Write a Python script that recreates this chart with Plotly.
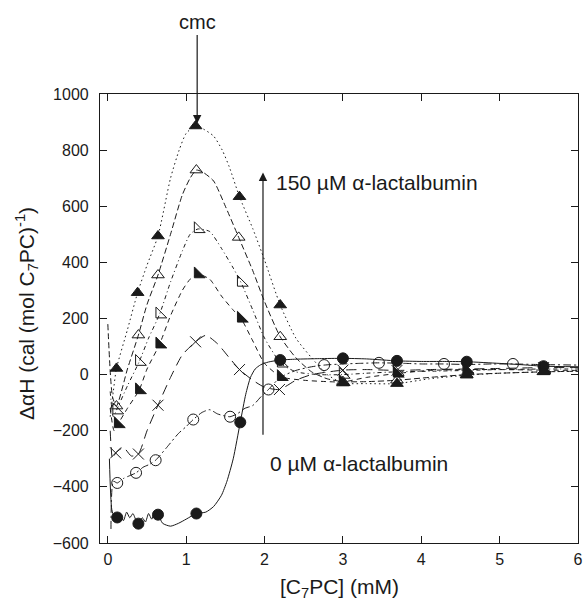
import plotly.graph_objects as go

# ---- data ----
# 0 µM alpha-lactalbumin (filled circles, solid)
c0_line_x = [0.02, 0.05, 0.08, 0.12, 0.16, 0.2, 0.24, 0.28, 0.32, 0.36, 0.39, 0.44, 0.48, 0.52, 0.56, 0.6, 0.64, 0.7, 0.8, 0.9, 1.0, 1.13, 1.25, 1.35, 1.45, 1.52, 1.6, 1.69, 1.76, 1.82, 1.88, 1.95, 2.05, 2.2, 2.4, 2.7, 3.0, 3.3, 3.69, 4.0, 4.3, 4.58, 5.0, 5.3, 5.56, 6.0]
c0_line_y = [-300, -480, -505, -509, -500, -520, -490, -510, -495, -520, -531, -510, -525, -495, -515, -490, -499, -530, -540, -530, -515, -495, -490, -470, -430, -380, -300, -170, -70, -10, 20, 35, 45, 52, 55, 57, 58, 56, 49, 47, 47, 46, 40, 35, 30, 28]
c0_mx = [0.12, 0.39, 0.64, 1.13, 1.69, 2.2, 3.0, 3.69, 4.58, 5.56]
c0_my = [-509, -531, -499, -495, -170, 52, 58, 49, 46, 30]

# open circles (dash-dot)
c1_line_x = [0.04, 0.07, 0.12, 0.2, 0.28, 0.36, 0.45, 0.53, 0.61, 0.75, 0.9, 1.0, 1.09, 1.2, 1.3, 1.4, 1.5, 1.56, 1.65, 1.75, 1.85, 1.95, 2.05, 2.2, 2.4, 2.6, 2.76, 3.0, 3.2, 3.46, 3.8, 4.0, 4.29, 4.6, 4.9, 5.17, 5.5, 6.0]
c1_line_y = [-550, -380, -386, -370, -360, -350, -330, -320, -305, -260, -210, -185, -160, -135, -125, -140, -148, -150, -140, -120, -110, -80, -53, -10, 15, 28, 34, 38, 40, 42, 40, 38, 38, 36, 38, 38, 36, 34]
c1_mx = [0.12, 0.36, 0.61, 1.09, 1.56, 2.05, 2.76, 3.46, 4.29, 5.17]
c1_my = [-386, -350, -305, -160, -150, -53, 34, 42, 38, 38]

# crosses (long dash)
c2_line_x = [0.03, 0.06, 0.1, 0.2, 0.3, 0.39, 0.5, 0.64, 0.8, 0.95, 1.12, 1.25, 1.4, 1.55, 1.68, 1.85, 2.0, 2.19, 2.4, 2.6, 3.0, 3.3, 3.69, 4.1, 4.58, 5.0, 5.56, 6.0]
c2_line_y = [-200, -300, -279, -260, -290, -283, -200, -109, -10, 70, 117, 140, 110, 60, 18, -20, -45, -53, -20, 0, 16, 18, 15, 18, 20, 22, 25, 25]
c2_mx = [0.1, 0.39, 0.64, 1.12, 1.68, 2.19, 3.0, 3.69, 4.58, 5.56]
c2_my = [-279, -283, -109, 117, 18, -53, 16, 15, 20, 25]

# filled right triangles (dashed)
c3_line_x = [0.03, 0.08, 0.13, 0.25, 0.4, 0.5, 0.66, 0.8, 0.95, 1.05, 1.15, 1.3, 1.45, 1.6, 1.7, 1.85, 2.0, 2.21, 2.5, 2.8, 3.0, 3.3, 3.69, 4.1, 4.58, 5.0, 5.56, 6.0]
c3_line_y = [-120, -200, -176, -120, -55, 20, 108, 210, 300, 340, 358, 340, 280, 230, 200, 120, 40, -8, -20, -25, -26, -10, 4, 15, 18, 18, 16, 15]
c3_mx = [0.13, 0.4, 0.66, 1.15, 1.7, 2.21, 3.0, 3.69, 4.58, 5.56]
c3_my = [-176, -55, 108, 358, 200, -8, -26, 4, 18, 16]

# open right triangles (dash-dot, short)
c4_line_x = [0.03, 0.07, 0.11, 0.25, 0.4, 0.52, 0.66, 0.8, 0.95, 1.05, 1.15, 1.3, 1.45, 1.6, 1.7, 1.85, 2.0, 2.21, 2.4, 2.7, 3.0, 3.3, 3.69, 4.1, 4.58, 5.0, 5.56, 6.0]
c4_line_y = [-60, -150, -127, -40, 46, 130, 215, 330, 440, 500, 519, 510, 450, 380, 328, 230, 130, 40, 10, 0, 0, 5, 10, 12, 15, 18, 20, 20]
c4_mx = [0.11, 0.4, 0.66, 1.15, 1.7, 2.21, 3.0, 3.69, 4.58, 5.56]
c4_my = [-127, 46, 215, 519, 328, 40, 0, 10, 15, 20]

# open triangles (medium dash)
c5_line_x = [0.0, 0.06, 0.11, 0.25, 0.39, 0.5, 0.64, 0.8, 0.95, 1.05, 1.13, 1.22, 1.35, 1.5, 1.67, 1.85, 2.0, 2.2, 2.4, 2.6, 2.8, 3.0, 3.3, 3.69, 4.1, 4.58, 5.0, 5.56, 6.0]
c5_line_y = [180, -80, -112, 20, 141, 250, 355, 500, 640, 700, 729, 720, 690, 600, 489, 370, 260, 135, 60, 10, -15, -25, -25, -20, -10, 0, 5, 10, 12]
c5_mx = [0.11, 0.39, 0.64, 1.13, 1.67, 2.2, 3.0, 3.69, 4.58, 5.56]
c5_my = [-112, 141, 355, 729, 489, 135, -25, -20, 0, 10]

# 150 µM alpha-lactalbumin (filled triangles, dotted)
c6_line_x = [0.03, 0.07, 0.11, 0.25, 0.38, 0.5, 0.64, 0.8, 0.91, 1.0, 1.12, 1.22, 1.35, 1.46, 1.55, 1.68, 1.85, 2.0, 2.2, 2.4, 2.6, 2.8, 3.0, 3.3, 3.69, 4.1, 4.58, 5.0, 5.56, 6.0]
c6_line_y = [-150, -60, 22, 160, 292, 390, 494, 700, 800, 860, 886, 875, 850, 800, 740, 634, 520, 408, 248, 130, 60, 0, -30, -32, -32, -15, -2, 5, 10, 12]
c6_mx = [0.11, 0.38, 0.64, 1.12, 1.68, 2.2, 3.0, 3.69, 4.58, 5.56]
c6_my = [22, 292, 494, 886, 634, 248, -30, -32, -2, 10]

x_ticks = [0, 1, 2, 3, 4, 5, 6]
y_ticks = [-600, -400, -200, 0, 200, 400, 600, 800, 1000]

cmc_x = 1.14
cmc_tip_y = 895
big_arrow_x = 1.98
big_arrow_y0, big_arrow_y1 = -220, 720

# ---- styles ----
INK = "#1a1a1a"
series = [
    (c0_line_x, c0_line_y, c0_mx, c0_my, "solid", "circle", 11),
    (c1_line_x, c1_line_y, c1_mx, c1_my, "8px,3px,2px,3px", "circle-open", 11),
    (c2_line_x, c2_line_y, c2_mx, c2_my, "10px,6px", "x-thin-open", 11),
    (c3_line_x, c3_line_y, c3_mx, c3_my, "5px,4px", "triangle-sw", 12),
    (c4_line_x, c4_line_y, c4_mx, c4_my, "4px,3px,1px,3px", "triangle-sw-open", 12),
    (c5_line_x, c5_line_y, c5_mx, c5_my, "6px,3px", "triangle-up-open", 11),
    (c6_line_x, c6_line_y, c6_mx, c6_my, "1.5px,3px", "triangle-up", 11),
]

fig = go.Figure()
for lx, ly, mx, my, dash, sym, sz in series:
    fig.add_trace(go.Scatter(x=lx, y=ly, mode="lines",
                             line=dict(color=INK, width=1, dash=dash, shape="spline", smoothing=0.6),
                             showlegend=False, hoverinfo="skip"))
for lx, ly, mx, my, dash, sym, sz in series:
    fig.add_trace(go.Scatter(x=mx, y=my, mode="markers",
                             marker=dict(symbol=sym, size=sz, color=INK,
                                         line=dict(color=INK, width=1)),
                             showlegend=False))

FONT = "Liberation Sans, Arial, Helvetica, sans-serif"

axis_common = dict(showline=True, linecolor=INK, linewidth=1.2, mirror="ticks",
                   ticks="inside", ticklen=7, tickcolor=INK, tickwidth=1,
                   showgrid=False, zeroline=False,
                   tickfont=dict(family=FONT, size=16, color=INK))

fig.update_xaxes(range=[-0.1, 6], tickvals=x_ticks, ticklabelstandoff=2, **axis_common)
fig.update_yaxes(range=[-600, 1000], tickvals=y_ticks, ticklabelstandoff=7, **axis_common)

# axis titles
fig.add_annotation(x=0.5, y=-0.1, xref="paper", yref="paper", text="[C<sub>7</sub>PC] (mM)",
                   showarrow=False, xanchor="center", yanchor="middle",
                   font=dict(family=FONT, size=21, color=INK))
fig.add_annotation(x=-0.155, y=0.512, xref="paper", yref="paper",
                   text="ΔαH (cal (mol C<sub>7</sub>PC)<sup>-1</sup>)", textangle=-90,
                   showarrow=False, xanchor="center", yanchor="middle",
                   font=dict(family=FONT, size=21, color=INK))

fig.add_annotation(x=cmc_x, y=cmc_tip_y, xref="x", yref="y", text="cmc", showarrow=True,
                   ax=0, ay=-101, arrowhead=2, arrowsize=1.4, arrowwidth=1.2, arrowcolor=INK,
                   font=dict(family=FONT, size=20, color=INK), yanchor="middle")
fig.add_annotation(x=big_arrow_x, y=big_arrow_y1, ax=big_arrow_x, ay=big_arrow_y0,
                   xref="x", yref="y", axref="x", ayref="y", text="", showarrow=True,
                   arrowhead=2, arrowsize=1.4, arrowwidth=1.2, arrowcolor=INK)
fig.add_annotation(x=2.12, y=683, xref="x", yref="y", text="150 µM α-lactalbumin",
                   showarrow=False, xanchor="left", yanchor="middle",
                   font=dict(family=FONT, size=21, color=INK))
fig.add_annotation(x=2.04, y=-318, xref="x", yref="y", text="0 µM α-lactalbumin",
                   showarrow=False, xanchor="left", yanchor="middle",
                   font=dict(family=FONT, size=21, color=INK))

fig.update_layout(width=588, height=602, margin=dict(l=100, r=5, t=94, b=59),
                  plot_bgcolor="white", paper_bgcolor="white", showlegend=False)

fig.write_html("out.html")
